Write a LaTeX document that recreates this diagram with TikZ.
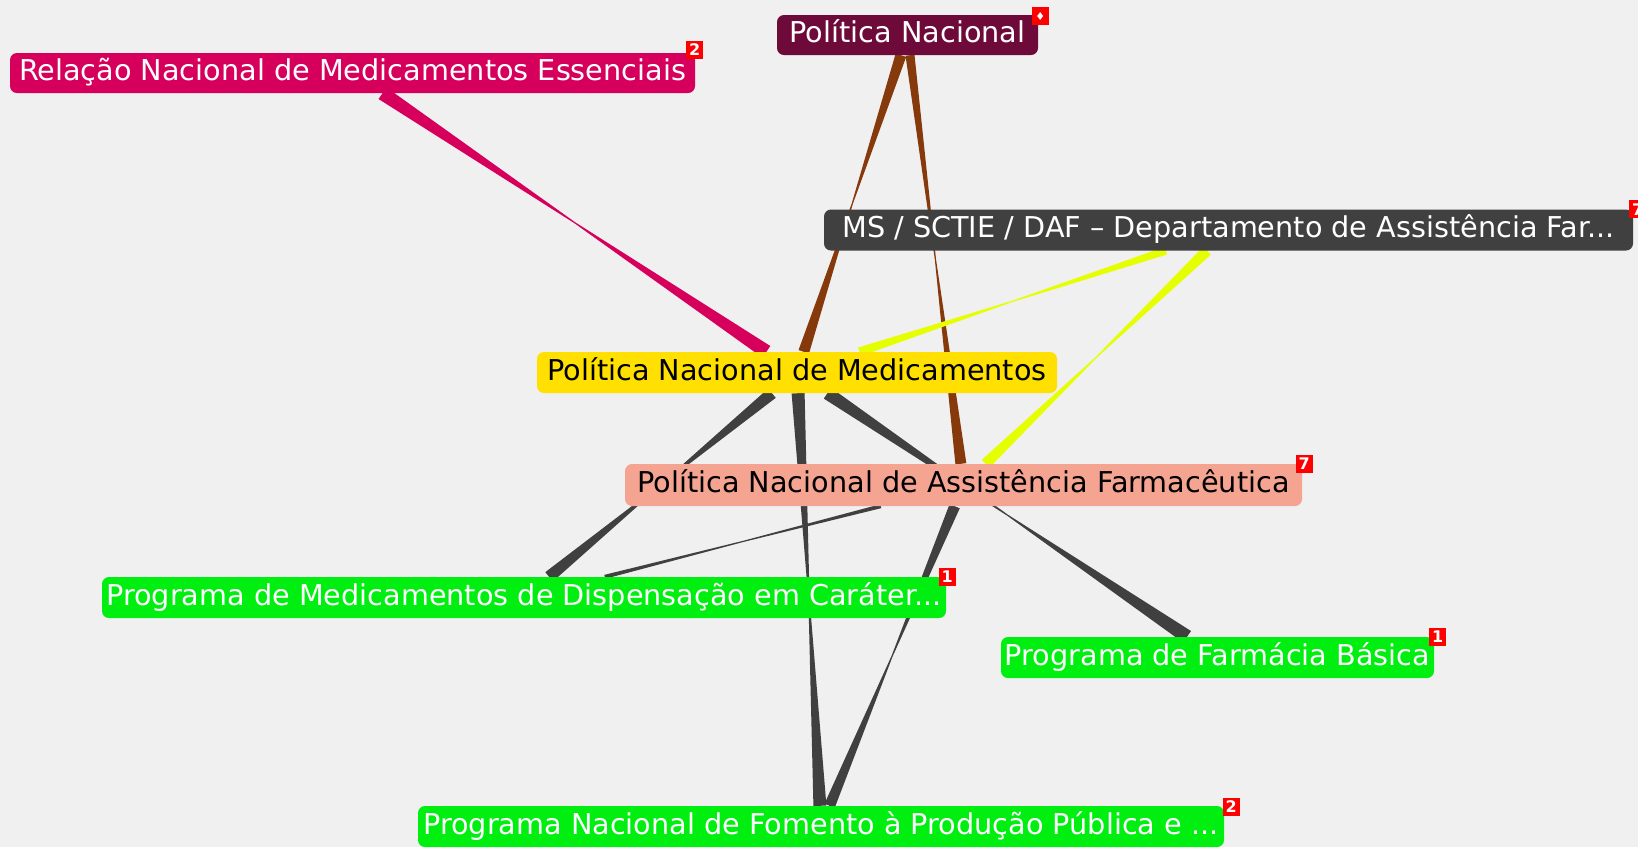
\documentclass[tikz,border=0pt]{standalone}
\usepackage{fontspec}
\setmainfont{DejaVu Sans}
\newfontfamily\symfont{DejaVu Sans}
\usetikzlibrary{calc,backgrounds}
\definecolor{bgc}{RGB}{240,240,240}
\definecolor{maroon}{RGB}{110,10,58}
\definecolor{pinkc}{RGB}{214,0,92}
\definecolor{darkg}{RGB}{64,64,64}
\definecolor{yellowc}{RGB}{255,224,0}
\definecolor{salmon}{RGB}{244,164,144}
\definecolor{greenc}{RGB}{0,238,16}
\definecolor{brownc}{RGB}{134,58,12}
\definecolor{limec}{RGB}{230,255,0}
\definecolor{badgec}{RGB}{255,0,0}
\newcommand\tedge[5]{%
  \path (#1) -- (#2) coordinate[pos=0] (tA) coordinate[pos=0.5] (tM) coordinate[pos=1] (tB);
  \fill[#5] ($(tA)!#3!90:(tB)$) -- ($(tM)!0.6pt!90:(tB)$) -- ($(tB)!#4!-90:(tA)$) -- ($(tB)!#4!90:(tA)$) -- ($(tM)!0.6pt!-90:(tB)$) -- ($(tA)!#3!-90:(tB)$) -- cycle;}
\tikzset{
  topic/.style={rectangle, rounded corners=7pt, minimum height=40pt, inner sep=0pt,
    font=\fontsize{28.7}{32}\selectfont, text height=21pt, text depth=6pt},
  badge/.style={rectangle, fill=badgec, text=white, minimum width=17pt, minimum height=18pt,
    inner sep=0pt, font=\bfseries\fontsize{16}{16}\selectfont}
}
\begin{document}
\begin{tikzpicture}[x=1pt,y=-1pt]
\useasboundingbox (0,0) rectangle (1638,847);
% nodes
\node[topic, fill=maroon, text=white, minimum width=261pt] (pn) at (907.5,35) {Política Nacional};
\node[topic, fill=pinkc, text=white, minimum width=685pt] (rel) at (352.5,73) {Relação Nacional de Medicamentos Essenciais};
\node[topic, fill=darkg, text=white, minimum width=809pt, minimum height=41pt] (ms) at (1228.5,230) {MS / SCTIE / DAF – Departamento de Assistência Far...};
\node[topic, fill=yellowc, text=black, minimum width=520pt, minimum height=41pt] (pnm) at (797,372.5) {Política Nacional de Medicamentos};
\node[topic, fill=salmon, text=black, minimum width=677pt, minimum height=42pt] (pnaf) at (963.5,485) {Política Nacional de Assistência Farmacêutica};
\node[topic, fill=greenc, text=white, minimum width=844pt, minimum height=41pt] (disp) at (524,597.5) {Programa de Medicamentos de Dispensação em Caráter...};
\node[topic, fill=greenc, text=white, minimum width=433pt, minimum height=41pt] (farm) at (1217.5,657.5) {Programa de Farmácia Básica};
\node[topic, fill=greenc, text=white, minimum width=806pt, minimum height=41pt] (fom) at (821,826.5) {Programa Nacional de Fomento à Produção Pública e ...};
% badges
\node[badge, font=\symfont\fontsize{11}{11}\selectfont] (bpn) at ($(pn.north east)+(2,1.5)$) {♦};
\node[badge] (brel) at ($(rel.north east)+(-0.5,-3)$) {2};
\node[badge] (bms) at ($(ms.north east)+(4.5,0)$) {7};
\node[badge] (bpnaf) at ($(pnaf.north east)+(2,0)$) {7};
\node[badge] (bdisp) at ($(disp.north east)+(1,0)$) {1};
\node[badge] (bfarm) at ($(farm.north east)+(3.5,0)$) {1};
\node[badge] (bfom) at ($(fom.north east)+(7,1)$) {2};
% edges
\begin{scope}[on background layer]
  \fill[bgc] (0,0) rectangle (1638,847);
  \tedge{rel}{pnm}{7pt}{7pt}{pinkc}
  \tedge{pn}{pnm}{5.5pt}{5.5pt}{brownc}
  \tedge{pn}{pnaf}{4.5pt}{5.5pt}{brownc}
  \tedge{ms}{pnm}{4pt}{4.5pt}{limec}
  \tedge{ms}{pnaf}{5.5pt}{5.5pt}{limec}
  \tedge{pnm}{disp}{6pt}{6pt}{darkg}
  \tedge{pnm}{fom}{6.5pt}{6.5pt}{darkg}
  \tedge{pnm}{farm}{6.5pt}{7pt}{darkg}
  \tedge{pnaf}{disp}{2pt}{2pt}{darkg}
  \tedge{pnaf}{fom}{5.5pt}{5.5pt}{darkg}
\end{scope}
\end{tikzpicture}
\end{document}
